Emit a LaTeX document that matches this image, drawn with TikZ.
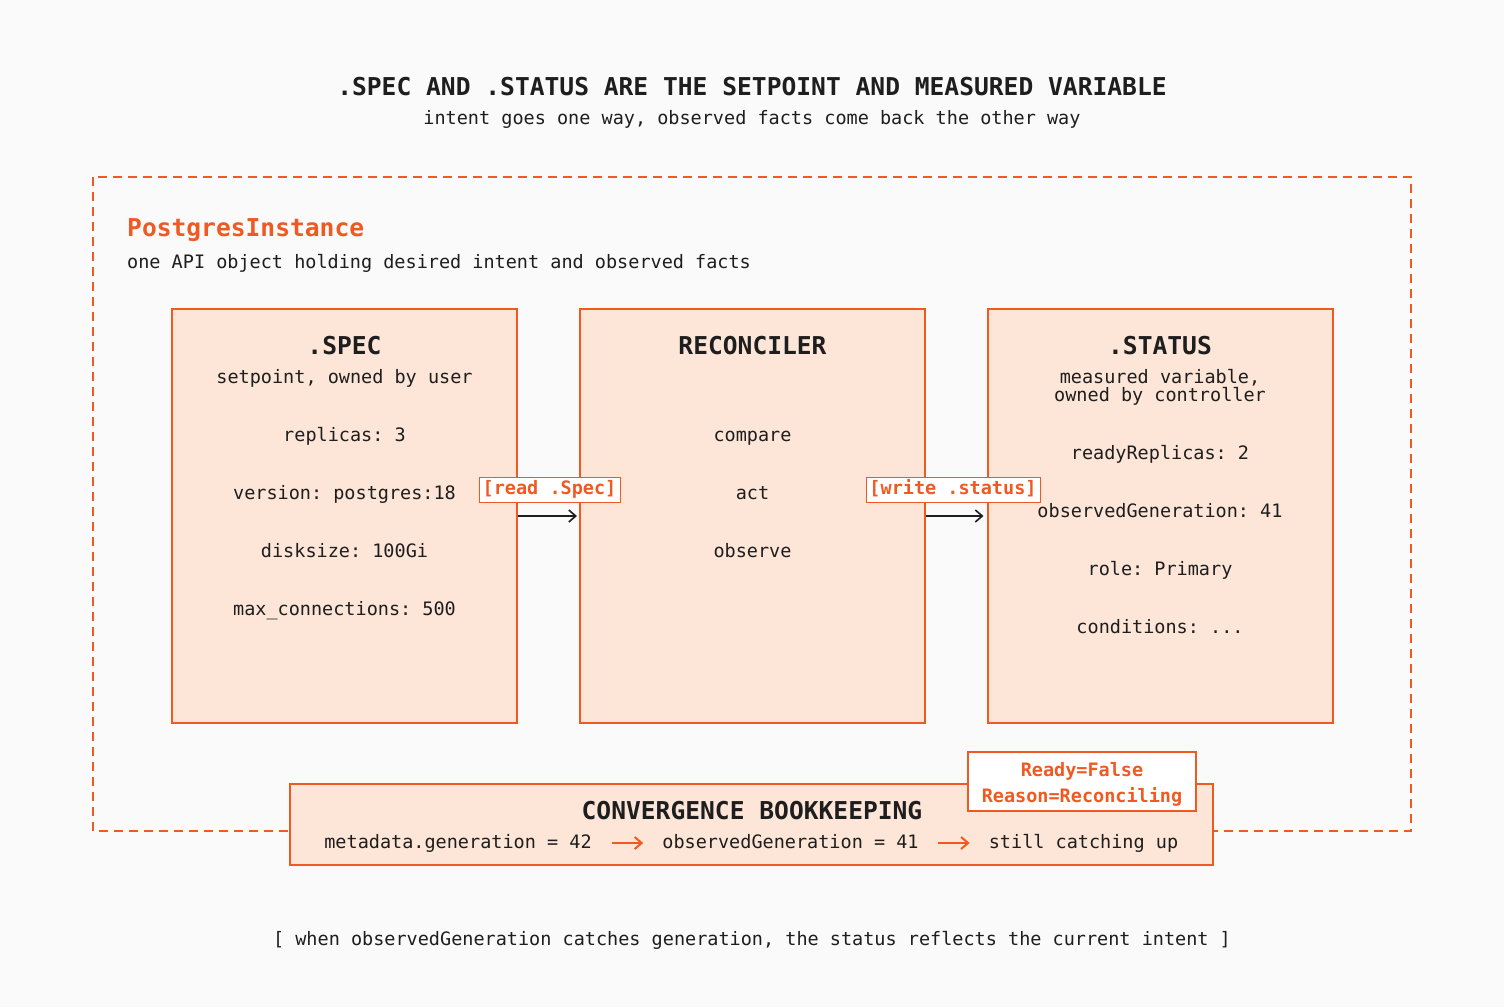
\documentclass[tikz,border=0pt]{standalone}
\usepackage{fontspec}
\setmainfont{DejaVu Sans Mono}
\usetikzlibrary{arrows.meta}
\frenchspacing
\definecolor{bgc}{HTML}{FAFAFA}
\definecolor{org}{HTML}{EE5A22}
\definecolor{peach}{HTML}{FDE6D8}
\definecolor{ink}{HTML}{1E1E1E}
\newcommand{\bigf}{\fontsize{24.6}{28}\selectfont\bfseries\frenchspacing}
\newcommand{\smf}{\fontsize{18.5}{18}\selectfont\frenchspacing}
\tikzset{
  panel/.style={draw=org, fill=peach, line width=2pt, minimum width=345pt, minimum height=414pt, inner sep=0pt},
  hd/.style={font=\bigf, text=ink, inner sep=0pt, text height=1em, text depth=0pt, yshift=-3.5pt},
  tx/.style={font=\smf, text=ink, inner sep=0pt, text height=1em, text depth=0pt, yshift=-2pt},
  flow/.style={-{Straight Barb[length=7pt,width=12pt,line width=1.6pt]}, line width=1.6pt, ink},
  lbl/.style={draw=org, fill=white, line width=1pt, font=\smf\bfseries, text=org, inner sep=0pt, minimum height=25pt, text height=1em, text depth=0.05em},
  oflow/.style={-{Straight Barb[length=7pt,width=12pt,line width=2pt]}, line width=2pt, org},
}
\begin{document}
\begin{tikzpicture}[x=1pt,y=-1pt]
\fill[bgc] (0,0) rectangle (1504,1007);
\useasboundingbox (0,0) rectangle (1504,1007);

% title
\node[hd] (title) at (752,87) {.SPEC AND .STATUS ARE THE SETPOINT AND MEASURED VARIABLE};
\node[tx] (sub) at (752,117) {intent goes one way, observed facts come back the other way};

% outer dashed frame
\draw[org, line width=2pt, dash pattern=on 9pt off 6pt] (93,177) rectangle (1411,831);
\node[hd, text=org, anchor=west] (pi) at (127,228) {PostgresInstance};
\node[tx, anchor=west] (pisub) at (127,261) {one API object holding desired intent and observed facts};

% panels
\node[panel] (spec) at (344.5,516) {};
\node[panel] (rec) at (752.5,516) {};
\node[panel] (stat) at (1160,516) {};

\node[hd] (spect) at (344.5,346) {.SPEC};
\node[tx] (specs) at (344.5,376) {setpoint, owned by user};
\node[tx] (s1) at (344.5,434) {replicas: 3};
\node[tx] (s2) at (344.5,492) {version: postgres:18};
\node[tx] (s3) at (344.5,550) {disksize: 100Gi};
\node[tx] (s4) at (344.5,608) {max\_connections: 500};

\node[hd] (rect) at (752.5,346) {RECONCILER};
\node[tx] (r1) at (752.5,434) {compare};
\node[tx] (r2) at (752.5,492) {act};
\node[tx] (r3) at (752.5,550) {observe};

\node[hd] (statt) at (1160,346) {.STATUS};
\node[tx] (stats1) at (1160,376) {measured variable,};
\node[tx] (stats2) at (1160,394) {owned by controller};
\node[tx] (t1) at (1160,452) {readyReplicas: 2};
\node[tx] (t2) at (1160,510) {observedGeneration: 41};
\node[tx] (t3) at (1160,568) {role: Primary};
\node[tx] (t4) at (1160,626) {conditions: ...};

% flow arrows
\draw[flow, shorten >=2pt] (spec.east) -- (rec.west);
\draw[flow, shorten >=3pt] (rec.east) -- (stat.west);
\node[lbl, minimum width=141pt] (rl) at (549.5,489.5) {[read .Spec]};
\node[lbl, minimum width=174pt] (wl) at (953,489.5) {[write .status]};

% bottom bookkeeping
\node[draw=org, fill=peach, line width=2pt, minimum width=923pt, minimum height=81pt, inner sep=0pt] (conv) at (751.5,824.5) {};
\node[hd] (convt) at (752,811) {CONVERGENCE BOOKKEEPING};
\node[tx] (g1) at (458,841) {metadata.generation = 42};
\node[tx] (g2) at (790.5,841) {observedGeneration = 41};
\node[tx] (g3) at (1083.5,841) {still catching up};
\draw[oflow, shorten <=20pt, shorten >=19pt] (g1.east) -- (g2.west);
\draw[oflow, shorten <=19pt, shorten >=19pt] (g2.east) -- (g3.west);

\node[draw=org, fill=white, line width=2pt, minimum width=228pt, minimum height=59pt, inner sep=0pt] (ready) at (1082,781.5) {};
\node[tx, font=\smf\bfseries, text=org] (ready1) at (1082,769) {Ready=False};
\node[tx, font=\smf\bfseries, text=org] (ready2) at (1082,795) {Reason=Reconciling};

% footer
\node[tx] (foot) at (752,938) {[ when observedGeneration catches generation, the status reflects the current intent ]};
\end{tikzpicture}
\end{document}
